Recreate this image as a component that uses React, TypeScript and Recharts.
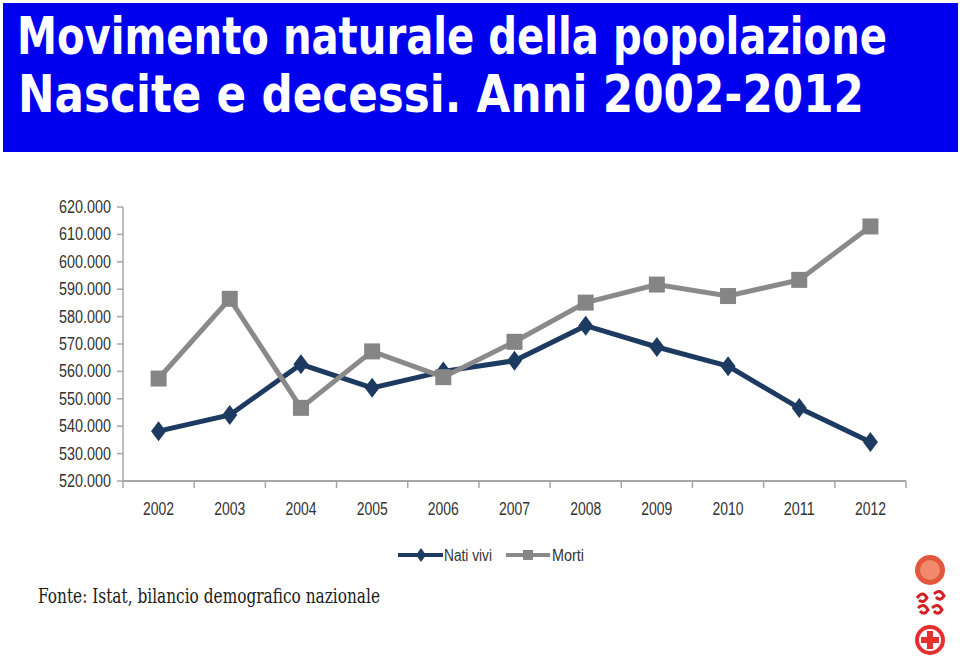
import React from 'react';
import { LineChart, Line, XAxis, YAxis, Legend } from 'recharts';

const years = ['2002', '2003', '2004', '2005', '2006', '2007', '2008', '2009', '2010', '2011', '2012'];
const natiVivi = [538200, 544100, 562600, 554000, 560000, 563900, 576700, 568900, 561900, 546600, 534200];
const morti = [557400, 586500, 546700, 567300, 557900, 570800, 585100, 591700, 587500, 593400, 612900];
const yTicks = [520000, 530000, 540000, 550000, 560000, 570000, 580000, 590000, 600000, 610000, 620000];

const titleLine1 = 'Movimento naturale della popolazione';
const titleLine2 = 'Nascite e decessi. Anni 2002-2012';
const sourceText = 'Fonte: Istat, bilancio demografico nazionale';
const seriesNames = { nati: 'Nati vivi', morti: 'Morti' };

const data = years.map((y, i) => ({ year: y, nati: natiVivi[i], morti: morti[i] }));

const BLUE = '#1d3a60';
const GRAY = '#8a8a8a';
const AXIS = '#a6a6a6';
const NARROW = "'Liberation Sans Narrow', 'Arial Narrow', 'Liberation Sans', Arial, sans-serif";

const fmt = (v: number) => String(v).replace(/\B(?=(\d{3})+(?!\d))/g, '.');

const Diamond = (props: any) => {
  const { cx, cy, index } = props;
  if (cx == null || cy == null) return <g key={index} />;
  return (
    <path
      key={index}
      d={`M${cx},${cy - 10} L${cx + 7.5},${cy} L${cx},${cy + 10} L${cx - 7.5},${cy} Z`}
      fill={BLUE}
    />
  );
};

const Square = (props: any) => {
  const { cx, cy, index } = props;
  if (cx == null || cy == null) return <g key={index} />;
  return <rect key={index} x={cx - 8} y={cy - 8} width={16} height={16} fill="#858585" />;
};

const YTick = (props: any) => {
  const { x, y, payload } = props;
  return (
    <g>
      <line x1={x + 2} x2={x + 8} y1={y} y2={y} stroke={AXIS} strokeWidth={1.5} />
      <text
        x={x - 4}
        y={y}
        dy={6}
        textAnchor="end"
        fontFamily={NARROW}
        fontSize={18}
        fill="#333"
        textLength={52}
        lengthAdjust="spacingAndGlyphs"
      >
        {fmt(payload.value)}
      </text>
    </g>
  );
};

const XTick = (props: any) => {
  const { x, y, payload, index } = props;
  const half = payload.offset || 0;
  return (
    <g>
      <line x1={x - half} x2={x - half} y1={y - 8} y2={y - 1} stroke={AXIS} strokeWidth={1.5} />
      {index === years.length - 1 && (
        <line x1={x + half} x2={x + half} y1={y - 8} y2={y - 1} stroke={AXIS} strokeWidth={1.5} />
      )}
      <text
        x={x}
        y={y + 26}
        textAnchor="middle"
        fontFamily={NARROW}
        fontSize={18}
        fill="#333"
        textLength={31}
        lengthAdjust="spacingAndGlyphs"
      >
        {payload.value}
      </text>
    </g>
  );
};

const LegendContent = () => (
  <svg width={960} height={30} style={{ display: 'block' }}>
    <line x1={398} x2={443} y1={15} y2={15} stroke={BLUE} strokeWidth={4} />
    <path d="M421,8 L426,15 L421,22 L416,15 Z" fill={BLUE} />
    <text x={444} y={21} fontFamily={NARROW} fontSize={16} fill="#333" textLength={48} lengthAdjust="spacingAndGlyphs">
      {seriesNames.nati}
    </text>
    <line x1={506} x2={550} y1={15} y2={15} stroke={GRAY} strokeWidth={4} />
    <rect x={523} y={10} width={10} height={10} fill="#858585" />
    <text x={552} y={21} fontFamily={NARROW} fontSize={16} fill="#333" textLength={32} lengthAdjust="spacingAndGlyphs">
      {seriesNames.morti}
    </text>
  </svg>
);

const SY = 1.3;

export default function App() {
  return (
    <div style={{ position: 'absolute', left: 0, top: 0, width: 960, height: 659, background: '#fff', overflow: 'hidden' }}>
      <div style={{ position: 'absolute', left: 0, top: 0 }}>
        <LineChart width={960} height={659} data={data} margin={{ top: 207, right: 54, bottom: 138, left: 0 }}>
          <XAxis
            dataKey="year"
            scale="band"
            height={40}
            axisLine={{ stroke: AXIS, strokeWidth: 2 }}
            tickLine={false}
            tick={<XTick />}
            interval={0}
          />
          <YAxis
            type="number"
            domain={[520000, 620000]}
            ticks={yTicks}
            width={123}
            axisLine={{ stroke: AXIS, strokeWidth: 1.5 }}
            tickLine={false}
            tick={<YTick />}
            interval={0}
          />
          <Legend
            verticalAlign="middle"
            layout="horizontal"
            content={<LegendContent />}
            wrapperStyle={{ top: 540, left: 0, width: 960 }}
          />
          <Line
            dataKey="nati"
            name={seriesNames.nati}
            stroke={BLUE}
            strokeWidth={5}
            dot={<Diamond />}
            activeDot={false}
            isAnimationActive={false}
          />
          <Line
            dataKey="morti"
            name={seriesNames.morti}
            stroke={GRAY}
            strokeWidth={5}
            dot={<Square />}
            activeDot={false}
            isAnimationActive={false}
          />
        </LineChart>
      </div>
      <svg width={960} height={659} style={{ position: 'absolute', left: 0, top: 0, pointerEvents: 'none' }}>
        <rect x={3} y={3} width={955} height={149} fill="#0000ee" />
        <g transform={`scale(1, ${SY})`}>
          <text
            x={17}
            y={54 / SY}
            fill="#fff"
            fontFamily="'DejaVu Sans', sans-serif"
            fontWeight="bold"
            fontSize={40}
            textLength={870}
            lengthAdjust="spacingAndGlyphs"
          >
            {titleLine1}
          </text>
          <text
            x={18}
            y={112 / SY}
            fill="#fff"
            fontFamily="'DejaVu Sans', sans-serif"
            fontWeight="bold"
            fontSize={40}
            textLength={846}
            lengthAdjust="spacingAndGlyphs"
          >
            {titleLine2}
          </text>
        </g>
        <text
          x={38}
          y={603}
          fill="#1a1a1a"
          fontFamily="'DejaVu Serif', 'Liberation Serif', serif"
          fontSize={20}
          textLength={342}
          lengthAdjust="spacingAndGlyphs"
        >
          {sourceText}
        </text>
        <g>
          <circle cx={930} cy={570} r={15} fill="#e2573d" />
          <circle cx={930} cy={570} r={10} fill="#f08a6a" />
          <path d="M917,598 q6,-8 10,0 q-4,6 -8,2 M934,594 q6,-6 10,2 q-4,6 -8,1 M918,608 q6,-6 10,2 q-4,6 -8,1 M932,608 q6,-6 10,2 q-4,6 -8,1" stroke="#d42020" strokeWidth={3} fill="none" />
          <circle cx={930} cy={640} r={15} fill="#e53030" />
          <circle cx={930} cy={640} r={11} fill="#fff" />
          <rect x={927} y={631} width={6} height={18} fill="#e53030" />
          <rect x={921} y={637} width={18} height={6} fill="#e53030" />
        </g>
      </svg>
    </div>
  );
}
